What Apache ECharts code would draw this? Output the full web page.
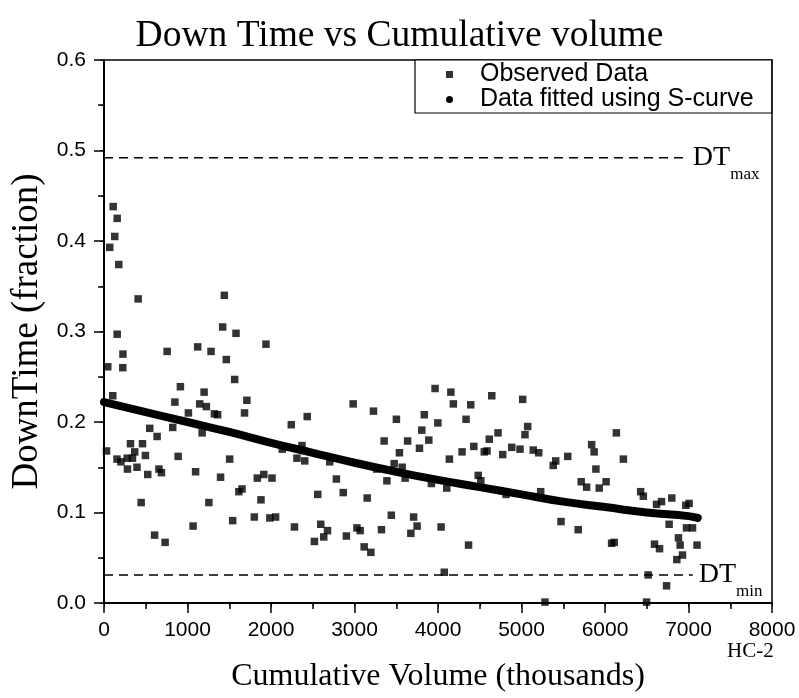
<!DOCTYPE html>
<html><head><meta charset="utf-8">
<script src="https://cdn.jsdelivr.net/npm/echarts@6/dist/echarts.min.js"></script>
<style>html,body{margin:0;padding:0;background:#fff}#c{width:799px;height:698px}</style>
</head><body><div id="c"></div>
<script>
// Observed Data (cumulative volume, thousands)
const obsX = [110,158,129,69,177,409,1441,158,1421,1581,227,756,1122,1282,45,225,1465,1565,915,1199,105,849,1146,1226,1322,1361,1011,548,636,823,1175,30,317,461,368,496,888,156,203,278,341,1505,281,395,524,658,688,1097,1396,1615,1653,445,1256,1541,1067,606,732,
1940,1711,1683,2984,3227,2434,2243,2135,2371,2311,2404,2703,1836,1914,2012,2783,1880,2560,2865,3152,1800,1986,2055,2281,2596,2677,2632,2520,2903,3029,3068,3116,3196,
3965,4154,4184,4392,4644,3502,3836,3998,4336,3806,3355,3636,3890,3778,3538,4614,4719,4429,4288,4554,4587,4775,4136,3475,3571,3266,3388,3606,3921,4105,4482,4513,4815,3441,3708,3750,3323,3675,4037,4366,4075,
5014,5074,5042,4883,4982,5141,5206,5410,5380,5554,6136,5840,5870,6220,5891,5715,5780,5931,6013,5230,5473,5679,6079,6110,5281,
6427,6459,6617,6677,6800,6968,7007,6768,6976,7048,6880,6900,6593,6653,7102,6928,6860,6737,6517,6498];
// Observed Data (down time fraction)
const obsY = [0.438,0.425,0.405,0.393,0.374,0.336,0.340,0.297,0.305,0.298,0.275,0.278,0.283,0.278,0.261,0.260,0.269,0.247,0.239,0.233,0.229,0.222,0.220,0.217,0.209,0.208,0.210,0.193,0.184,0.194,0.188,0.168,0.176,0.176,0.167,0.163,0.162,0.159,0.156,0.160,0.160,0.159,0.148,0.150,0.142,0.148,0.144,0.145,0.139,0.123,0.126,0.111,0.111,0.091,0.085,0.075,0.067,
0.286,0.224,0.210,0.220,0.212,0.206,0.197,0.170,0.174,0.160,0.157,0.156,0.138,0.142,0.138,0.137,0.114,0.120,0.122,0.116,0.095,0.094,0.095,0.084,0.087,0.080,0.073,0.068,0.074,0.083,0.080,0.062,0.056,
0.237,0.233,0.220,0.219,0.229,0.203,0.208,0.199,0.203,0.191,0.179,0.179,0.180,0.171,0.166,0.181,0.188,0.173,0.167,0.167,0.168,0.164,0.159,0.154,0.150,0.148,0.135,0.138,0.132,0.127,0.141,0.135,0.120,0.097,0.095,0.085,0.081,0.077,0.084,0.064,0.034,
0.225,0.195,0.186,0.172,0.170,0.169,0.166,0.157,0.152,0.162,0.188,0.175,0.167,0.159,0.148,0.134,0.128,0.127,0.134,0.123,0.090,0.081,0.066,0.067,0.001,
0.123,0.118,0.109,0.112,0.116,0.108,0.110,0.087,0.083,0.083,0.072,0.064,0.065,0.060,0.064,0.053,0.048,0.019,0.031,0.001];
// Data fitted using S-curve (read along the fitted band)
const fitX = [0,500,1000,1500,2000,2500,3000,3500,4000,4500,5000,5500,6000,6500,7000,7110];
const fitY = [0.222,0.211,0.200,0.189,0.177,0.166,0.155,0.145,0.136,0.128,0.120,0.112,0.106,0.100,0.096,0.094];
// Reference levels
const dtMax = 0.492, dtMaxEndX = 6980;
const dtMin = 0.031, dtMinEndX = 7050;
// Ticks
const xTickLabels = ['0','1000','2000','3000','4000','5000','6000','7000','8000'];
const yTickLabels = ['0.0','0.1','0.2','0.3','0.4','0.5','0.6'];

const serif = "'Liberation Serif','Times New Roman',serif";
const sans = "'Liberation Sans',Arial,sans-serif";

const chart = echarts.init(document.getElementById('c'), null, {renderer:'canvas'});
const axisBase = {
  axisLine:{show:true, lineStyle:{color:'#000', width:2}},
  splitLine:{show:false},
};
const dtLabel = (sub) => ({
  show:true, distance:6, formatter:'{a|DT}{b|' + sub + '}',
  rich:{
    a:{fontFamily:serif, fontSize:28, color:'#000', lineHeight:50},
    b:{fontFamily:serif, fontSize:17, color:'#000', lineHeight:17, verticalAlign:'bottom'}
  }
});
chart.setOption({
  animation:false,
  backgroundColor:'#fff',
  title:{text:'Down Time vs Cumulative volume', left:'center', top:17, padding:0,
    textStyle:{fontFamily:serif, fontSize:37.5, fontWeight:'normal', color:'#000'}},
  grid:{left:104, right:27, top:60, bottom:93, show:true, borderColor:'#000', borderWidth:1.5},
  legend:{
    orient:'vertical', left:415, top:60,
    backgroundColor:'#fff', borderColor:'#000', borderWidth:1.2,
    padding:[2,18,1,31], itemGap:0, itemWidth:7, itemHeight:7,
    textStyle:{fontFamily:sans, fontSize:25, color:'#000', lineHeight:25, padding:[0,0,0,22]},
    data:[{name:'Observed Data', icon:'rect'},{name:'Data fitted using S-curve', icon:'circle'}]
  },
  xAxis:[{
    ...axisBase, type:'value', min:0, max:8000, interval:1000, position:'bottom',
    name:'Cumulative Volume (thousands)', nameLocation:'middle', nameGap:58,
    nameTextStyle:{fontFamily:serif, fontSize:32, color:'#000'},
    axisTick:{show:true, inside:false, length:10, lineStyle:{color:'#000', width:1.5}},
    minorTick:{show:true, splitNumber:2, length:6, lineStyle:{color:'#000', width:1.5}},
    axisLabel:{margin:17, fontFamily:sans, fontSize:21, color:'#000', formatter:(v)=>xTickLabels[Math.round(v/1000)]}
  },{
    ...axisBase, type:'value', min:0, max:8000, interval:1000, position:'top',
    axisLine:{show:true, lineStyle:{color:'#000', width:1.5}},
    axisTick:{show:true, inside:true, length:4, lineStyle:{color:'#000', width:1}},
    minorTick:{show:true, splitNumber:2, length:3, lineStyle:{color:'#000', width:1}},
    axisLabel:{show:false}
  }],
  yAxis:[{
    ...axisBase, type:'value', min:0, max:0.6, interval:0.1, position:'left',
    name:'DownTime (fraction)', nameLocation:'middle', nameGap:55,
    nameTextStyle:{fontFamily:serif, fontSize:37, color:'#000'},
    axisTick:{show:true, inside:false, length:10, lineStyle:{color:'#000', width:1.5}},
    minorTick:{show:true, splitNumber:2, length:6, lineStyle:{color:'#000', width:1.5}},
    axisLabel:{margin:18, fontFamily:sans, fontSize:21, color:'#000', formatter:(v)=>yTickLabels[Math.round(v*10)]}
  },{
    ...axisBase, type:'value', min:0, max:0.6, interval:0.1, position:'right',
    axisLine:{show:true, lineStyle:{color:'#000', width:1.5}},
    axisTick:{show:true, inside:true, length:4, lineStyle:{color:'#000', width:1}},
    minorTick:{show:true, splitNumber:2, length:3, lineStyle:{color:'#000', width:1}},
    axisLabel:{show:false}
  }],
  series:[
    {name:'Data fitted using S-curve', type:'line', xAxisIndex:0, yAxisIndex:0,
     data:fitX.map((x,i)=>[x,fitY[i]]), showSymbol:false, smooth:true,
     lineStyle:{color:'#000', width:8, cap:'round'}, itemStyle:{color:'#000'}, z:3},
    {name:'Observed Data', type:'scatter', xAxisIndex:0, yAxisIndex:0,
     data:obsX.map((x,i)=>[x,obsY[i]]), symbol:'rect', symbolSize:7.5,
     itemStyle:{color:'#000'}, z:4},
    {name:'DTmax', type:'line', data:[[0,dtMax],[dtMaxEndX,dtMax]], showSymbol:false,
     lineStyle:{color:'#000', width:1.5, type:[9,6]}, endLabel:dtLabel('max'), z:2},
    {name:'DTmin', type:'line', data:[[0,dtMin],[dtMinEndX,dtMin]], showSymbol:false,
     lineStyle:{color:'#000', width:1.5, type:[9,6]}, endLabel:dtLabel('min'), z:2}
  ],
  graphic:[{type:'text', left:727, top:641,
    style:{text:'HC-2', fontFamily:serif, fontSize:21, fill:'#000'}}]
});
</script></body></html>
